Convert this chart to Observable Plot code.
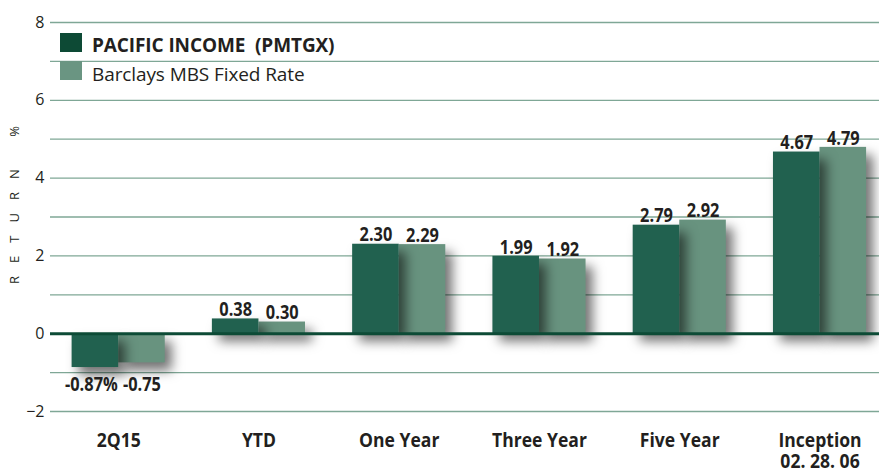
<!DOCTYPE html>
<html>
<head>
<meta charset="utf-8">
<script src="https://cdn.jsdelivr.net/npm/d3@7"></script>
<script src="https://cdn.jsdelivr.net/npm/@observablehq/plot@0.6"></script>
<style>
  body { margin: 0; background: #fff; }
  #wrap { position: relative; width: 879px; height: 470px; font-family: "Open Sans", "Noto Sans", sans-serif; color: #231f20; }
  .sw { position: absolute; left: 60px; width: 22px; height: 19px; }
  .lt { position: absolute; left: 92px; font-size: 19px; line-height: 19px; white-space: pre; letter-spacing: -0.1px; }
</style>
</head>
<body>
<div id="wrap"></div>
<script>
const categories = ["2Q15", "YTD", "One Year", "Three Year", "Five Year", "Inception\n02. 28. 06"];
const pacific = [-0.87, 0.38, 2.30, 1.99, 2.79, 4.67];
const barclays = [-0.75, 0.30, 2.29, 1.92, 2.92, 4.79];
const seriesNames = ["PACIFIC INCOME  (PMTGX)", "Barclays MBS Fixed Rate"];
const yTicks = [-2, 0, 2, 4, 6, 8];
const gridValues = [-2, -1, 1, 2, 3, 4, 5, 6, 7, 8];
const yLabel = "R\u2003E\u2003T\u2003U\u2003R\u2003N\u2003\u2003\u2002%";

const dark = "#21614f";
const light = "#68937f";
const W = 0.332;

const rows = categories.map((c, i) => ({i, c, p: pacific[i], b: barclays[i]}));
const fmt = (v, i) => v.toFixed(2) + (i === 0 ? "%" : "");
const valStyle = {fontSize: 19.5, fontWeight: "bold", fill: "#231f20"};

const chart = Plot.plot({
  width: 879,
  height: 470,
  marginLeft: 50,
  marginRight: 0,
  marginTop: 22,
  marginBottom: 59,
  style: {fontFamily: "'Open Sans', sans-serif", color: "#231f20", background: "white"},
  x: {type: "linear", domain: [-0.486, 5.424], axis: null},
  y: {domain: [-2, 8], axis: null},
  marks: [
    Plot.ruleY(gridValues, {stroke: "#7fa796", strokeWidth: 1.3}),
    Plot.rect(rows, {x1: d => d.i, x2: d => d.i + W, y1: 0, y2: "b", fill: light}),
    Plot.rect(rows, {x1: d => d.i - W, x2: d => d.i, y1: 0, y2: "p", fill: dark}),
    Plot.ruleY([0], {stroke: "#0d4b36", strokeWidth: 3}),
    Plot.axisY(yTicks, {tickSize: 0, tickPadding: 6, fontSize: 16, label: null, fill: "#231f20"}),
    Plot.text([yLabel], {frameAnchor: "left", textAnchor: "middle", text: d => d, rotate: -90, dx: -36, dy: -12, fontSize: 13, fill: "#231f20"}),
    // pacific value labels
    Plot.text(rows.filter(d => d.p >= 0), {x: d => d.i - W / 2, y: "p", text: d => fmt(d.p, d.i), dy: -9, ...valStyle}),
    Plot.text(rows.filter(d => d.p < 0), {x: d => d.i - W / 2, y: "p", text: d => fmt(d.p, d.i), dy: 17, dx: -4, ...valStyle}),
    // barclays value labels
    Plot.text(rows.filter(d => d.b >= 0), {x: d => d.i + W / 2, y: "b", text: d => fmt(d.b, -1), dy: -9, ...valStyle}),
    Plot.text(rows.filter(d => d.b < 0), {x: d => d.i + W / 2, y: "p", text: d => fmt(d.b, -1), dy: 17, ...valStyle}),
    // category labels
    Plot.text(rows, {x: "i", text: "c", frameAnchor: "bottom", dy: 20, lineAnchor: "top", lineHeight: 1.1, fontSize: 19.5, fontWeight: "bold", fill: "#231f20"})
  ]
});

chart.querySelectorAll('g[aria-label="rect"]').forEach(g => {
  g.style.filter = "drop-shadow(7px 8px 6px rgba(0,0,0,0.55))";
});
// condensed look for value labels and category labels
const textGroups = chart.querySelectorAll('g[aria-label="text"]');
const squeeze = [[1, 0.84], [2, 0.84], [3, 0.84], [4, 0.84], [5, 0.9]];
squeeze.forEach(([k, s]) => {
  const g = textGroups[k];
  if (!g) return;
  g.querySelectorAll("text").forEach(t => {
    const tr = t.getAttribute("transform") || "";
    t.setAttribute("transform", tr + ` scale(${s},1)`);
  });
});

const wrap = document.getElementById("wrap");
wrap.appendChild(chart);

const legColors = ["#0d4a35", "#6a9582"];
const swTops = [33, 61];
const txtTops = [36, 65];
seriesNames.forEach((name, k) => {
  const sw = document.createElement("div");
  sw.className = "sw";
  sw.style.top = swTops[k] + "px";
  sw.style.background = legColors[k];
  const s = document.createElement("div");
  s.className = "lt";
  s.style.top = txtTops[k] + "px";
  s.textContent = name;
  if (k === 0) s.style.fontWeight = "bold";
  wrap.appendChild(sw);
  wrap.appendChild(s);
});
</script>
</body>
</html>
